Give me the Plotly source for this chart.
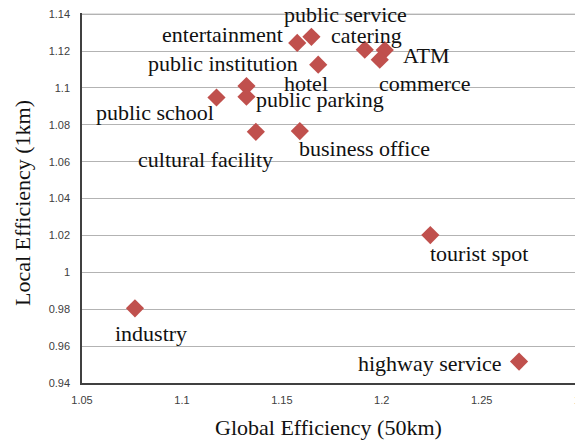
import plotly.graph_objects as go

categories = ["entertainment", "public service", "catering", "ATM", "commerce", "hotel",
              "public institution", "public parking", "public school", "cultural facility",
              "business office", "tourist spot", "highway service", "industry"]
global_eff = [1.1577, 1.1648, 1.1915, 1.2015, 1.1990, 1.1682,
              1.1323, 1.1323, 1.1173, 1.1370, 1.1590, 1.2243, 1.2687, 1.0765]
local_eff = [1.1244, 1.1277, 1.1207, 1.1205, 1.1153, 1.1126,
             1.1010, 1.0952, 1.0948, 1.0762, 1.0766, 1.0202, 0.9516, 0.9805]

x_ticks = [1.05, 1.1, 1.15, 1.2, 1.25, 1.3]
x_tick_labels = ["1.05", "1.1", "1.15", "1.2", "1.25", "1.3"]
y_ticks = [0.94, 0.96, 0.98, 1.0, 1.02, 1.04, 1.06, 1.08, 1.1, 1.12, 1.14]
y_tick_labels = ["0.94", "0.96", "0.98", "1", "1.02", "1.04", "1.06", "1.08", "1.1", "1.12", "1.14"]

# label offsets (pixels) relative to each point
label_dx = [-75, 34, 2, 41, 45, -12, -23, 74, -61, -50, 65, 49, -89, 16]
label_dy = [8, 22, 14, -5, -24, -19, 23, -3, -15, -28, -17, -18, -2, -25]

fig = go.Figure()
fig.add_trace(go.Scatter(
    x=global_eff, y=local_eff, mode="markers",
    marker=dict(symbol="diamond", size=14, color="#C0504D", line=dict(width=0)),
    hovertext=categories, showlegend=False,
))

serif = "Liberation Serif, Times New Roman, serif"
annotations = []
for name, gx, ly, dx, dy in zip(categories, global_eff, local_eff, label_dx, label_dy):
    annotations.append(dict(x=gx, y=ly, xref="x", yref="y", text=name, showarrow=False,
                            xanchor="center", yanchor="middle", xshift=dx, yshift=dy,
                            font=dict(family=serif, size=22, color="#111111")))
annotations.append(dict(x=0.5, y=0, xref="paper", yref="paper", text="Global Efficiency (50km)",
                        showarrow=False, xanchor="center", yanchor="middle", xshift=-4, yshift=-44,
                        font=dict(family=serif, size=22, color="#111111")))
annotations.append(dict(x=0, y=0.5, xref="paper", yref="paper", text="Local Efficiency (1km)",
                        showarrow=False, xanchor="center", yanchor="middle", xshift=-60, yshift=-5,
                        textangle=-90, font=dict(family=serif, size=22, color="#111111")))

# top gridline (plotly drops gridlines at the very edge of the range)
shapes = [dict(type="line", xref="paper", yref="y", x0=0, x1=1, y0=y_ticks[-1], y1=y_ticks[-1],
               line=dict(color="#B3B3B3", width=1), layer="below")]

tickfont = dict(family="Liberation Sans, Arial, sans-serif", size=11, color="#404040")
# the page body adds an 8px margin, so the figure is sized 8px smaller
fig.update_layout(
    width=575, height=434,
    margin=dict(l=74, r=1, t=5, b=59, autoexpand=False),
    paper_bgcolor="white", plot_bgcolor="white",
    annotations=annotations, shapes=shapes,
    xaxis=dict(range=[1.05, 1.3002], tickvals=x_ticks, ticktext=x_tick_labels, showgrid=False,
               zeroline=False, showline=True, linecolor="#404040", linewidth=1.5, automargin=False,
               ticks="", tickfont=tickfont, ticklabelstandoff=6, ticklabeloverflow="allow"),
    yaxis=dict(range=[0.94, 1.1406], tickvals=y_ticks, ticktext=y_tick_labels, showgrid=True,
               gridcolor="#B3B3B3", gridwidth=1, zeroline=False, showline=True, automargin=False,
               linecolor="#404040", linewidth=1.5, ticks="", tickfont=tickfont, ticklabelstandoff=8,
               ticklabeloverflow="allow"),
)

fig.write_html("out.html")
